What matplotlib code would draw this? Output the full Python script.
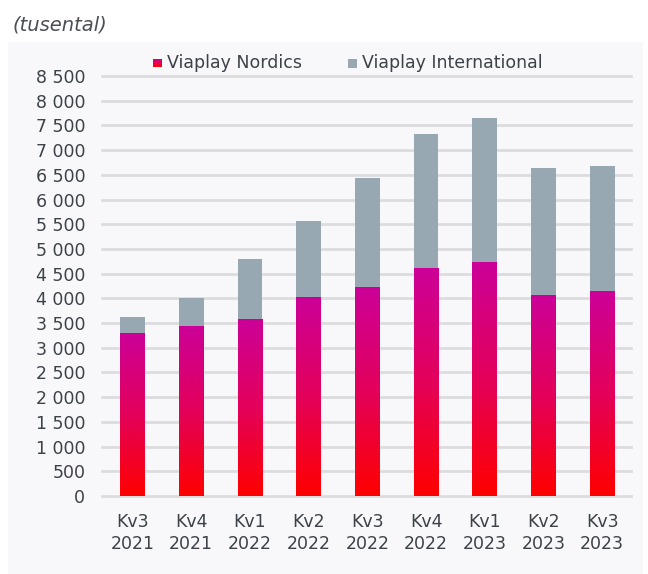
import matplotlib
matplotlib.use("Agg")
import matplotlib.pyplot as plt
import numpy as np
from matplotlib.colors import LinearSegmentedColormap
from matplotlib.patches import Rectangle

# ---- data ----
quarters = ["Kv3\n2021", "Kv4\n2021", "Kv1\n2022", "Kv2\n2022", "Kv3\n2022",
            "Kv4\n2022", "Kv1\n2023", "Kv2\n2023", "Kv3\n2023"]
nordics = [3300, 3447, 3583, 4035, 4231, 4615, 4737, 4075, 4150]
international = [323, 561, 1215, 1532, 2206, 2713, 2915, 2565, 2530]
series_names = ["Viaplay Nordics", "Viaplay International"]
yticks = list(range(0, 8501, 500))
unit_label = "(tusental)"

# ---- style ----
W, H = 648, 574
fig = plt.figure(figsize=(W / 100, H / 100), dpi=100)
fig.patch.set_facecolor("white")
text_col = "#3c4247"
grey = "#97a8b2"
grid_col = "#dcdcde"
panel_col = "#f8f8fa"
grad = LinearSegmentedColormap.from_list("vp", ["#ff0000", "#e3005a", "#cc0099"])
font = "DejaVu Sans"
fs = 12.5

# background panel
fig.patches.append(Rectangle((8 / W, 0), (643 - 8) / W, (H - 42) / H,
                             transform=fig.transFigure, facecolor=panel_col,
                             edgecolor="none", zorder=-10))

ax = fig.add_axes([102 / W, (H - 496) / H, (631 - 102) / W, (496 - 76) / H])
ax.set_facecolor("none")
x = np.arange(len(quarters))
width = 0.42

for yv in yticks:
    ax.axhline(yv, color=grid_col, lw=2.0, zorder=0, clip_on=False)

bars_n = ax.bar(x, nordics, width, color="none", zorder=2)
ax.bar(x, international, width, bottom=nordics, color=grey, zorder=2)

gimg = np.linspace(0, 1, 256).reshape(-1, 1)
for b in bars_n:
    bx, by = b.get_x(), b.get_y()
    bw, bh = b.get_width(), b.get_height()
    im = ax.imshow(gimg, cmap=grad, origin="lower", aspect="auto",
                   extent=(bx, bx + bw, by, by + bh), zorder=3)
    im.set_clip_path(b)
ax.set_xlim(-0.52, 8.49)
ax.set_ylim(0, 8500)

ax.set_yticks(yticks)
ax.set_yticklabels([f"{v:,}".replace(",", " ") for v in yticks])
ax.set_xticks(x)
ax.set_xticklabels(quarters, linespacing=1.3)
for s in ax.spines.values():
    s.set_visible(False)
ax.tick_params(axis="both", length=0, colors=text_col, labelsize=fs)
ax.tick_params(axis="y", pad=12)
ax.tick_params(axis="x", pad=12)
for lab in ax.get_xticklabels() + ax.get_yticklabels():
    lab.set_fontfamily(font)

# unit label
fig.text(12 / W, 1 - 25 / H, unit_label, fontsize=14, style="italic",
         color="#4a4f55", va="center", ha="left", family=font)

# manual legend
sq = 9
lx = [153, 348]
ly = 63
for i, name in enumerate(series_names):
    lax = fig.add_axes([lx[i] / W, 1 - (ly + sq / 2) / H, sq / W, sq / H])
    lax.set_axis_off()
    if i == 0:
        lax.imshow(gimg, cmap=grad, origin="lower", aspect="auto", extent=(0, 1, 0, 1))
    else:
        lax.add_patch(Rectangle((0, 0), 1, 1, color=grey))
    lax.set_xlim(0, 1)
    lax.set_ylim(0, 1)
    fig.text((lx[i] + sq + 5) / W, 1 - ly / H, name, fontsize=fs, color=text_col,
             va="center", ha="left", family=font)

fig.savefig("out.png", dpi=100)
